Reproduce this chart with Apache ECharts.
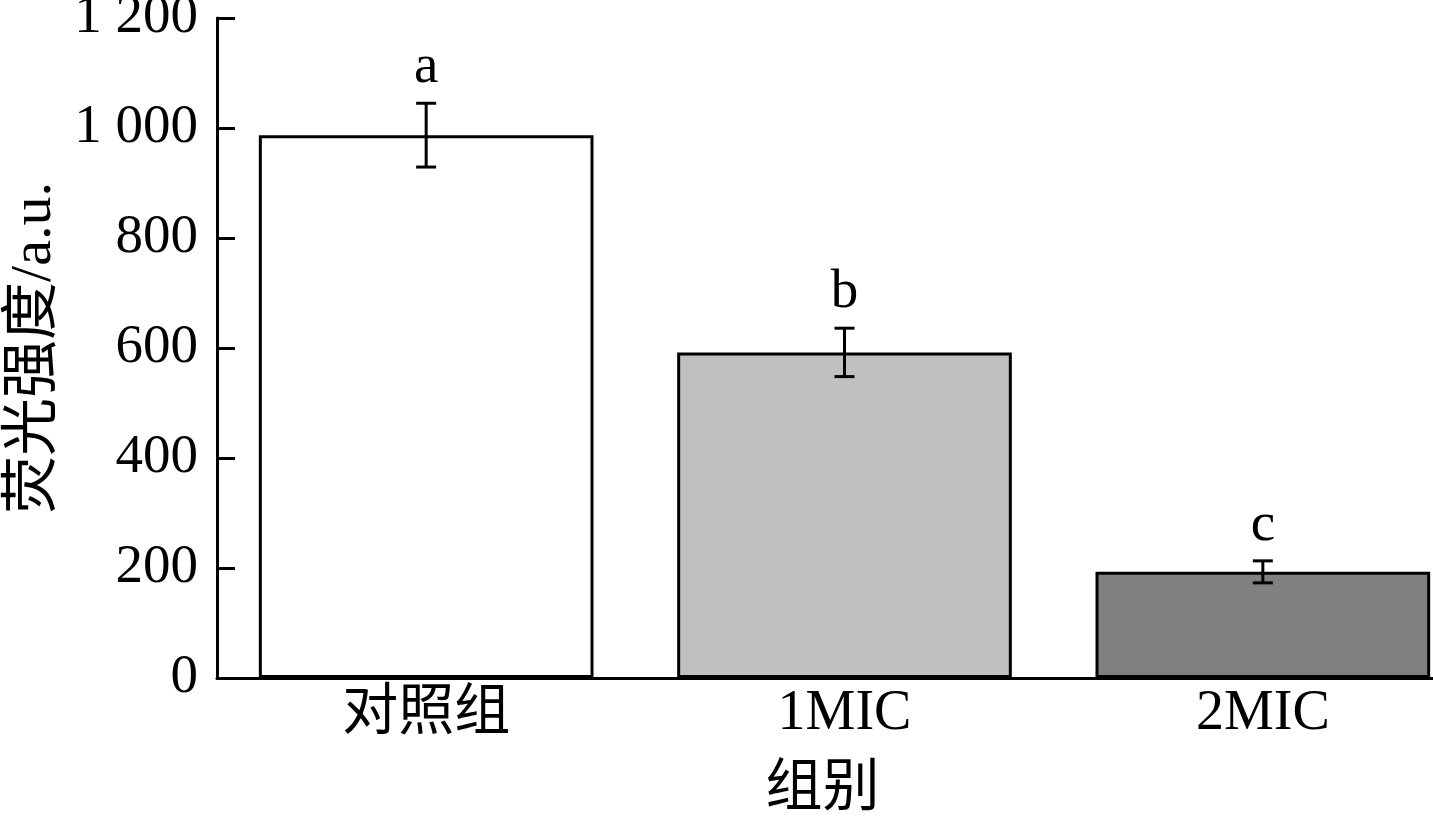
<!DOCTYPE html>
<html>
<head>
<meta charset="utf-8">
<script src="https://cdn.jsdelivr.net/npm/echarts@6/dist/echarts.min.js"></script>
<style>
html,body{margin:0;padding:0;background:#fff;}
#chart{width:1433px;height:820px;}
</style>
</head>
<body>
<div id="chart"></div>
<script>
var categories = ['对照组', '1MIC', '2MIC'];
var values = [987, 592, 193];
var errors = [58, 44, 20];
var letters = ['a', 'b', 'c'];
var barColors = ['#ffffff', '#c0c0c0', '#808080'];
var yTicks = [0, 200, 400, 600, 800, 1000, 1200];

var FONT = "'Liberation Serif', 'Times New Roman', 'Noto Sans CJK SC', serif";
var FS = 55;
var chart = echarts.init(document.getElementById('chart'));

function fmt(v) {
  var s = String(v);
  if (s.length > 3) s = s.slice(0, s.length - 3) + ' ' + s.slice(s.length - 3);
  return s;
}

var option = {
  animation: false,
  backgroundColor: '#fff',
  grid: { left: 217, top: 18, bottom: 142, right: -39, containLabel: false, outerBoundsMode: 'none' },
  xAxis: {
    type: 'category',
    data: categories,
    name: '组别',
    nameLocation: 'middle',
    nameGap: 84,
    nameTextStyle: { fontFamily: FONT, fontSize: 57, color: '#000', padding: [0, 44, 0, 0] },
    axisLine: { lineStyle: { color: '#000', width: 3 } },
    axisTick: { show: false },
    axisLabel: { fontFamily: FONT, fontSize: 56, color: '#000', margin: 8 },
    splitLine: { show: false }
  },
  yAxis: {
    type: 'value',
    min: yTicks[0],
    max: yTicks[yTicks.length - 1],
    interval: 200,
    name: '荧光强度/a.u.',
    nameLocation: 'middle',
    nameGap: 146,
    nameRotate: 90,
    nameTextStyle: { fontFamily: FONT, fontSize: 58, color: '#000' },
    axisLine: { show: true, lineStyle: { color: '#000', width: 3 } },
    axisTick: { show: true, inside: true, length: 18, lineStyle: { color: '#000', width: 3 } },
    axisLabel: { fontFamily: FONT, fontSize: FS, color: '#000', margin: 19, formatter: fmt },
    splitLine: { show: false }
  },
  series: [
    {
      type: 'bar',
      barWidth: '80%',
      data: values.map(function (v, i) {
        return { value: v, itemStyle: { color: barColors[i], borderColor: '#000', borderWidth: 3 } };
      }),
      z: 2
    },
    {
      type: 'custom',
      z: 5,
      data: values.map(function (v, i) { return [i, v, errors[i]]; }),
      renderItem: function (params, api) {
        var i = api.value(0), v = api.value(1), e = api.value(2);
        var top = api.coord([i, v + e]);
        var bot = api.coord([i, v - e]);
        var half = 10;
        var ls = { stroke: '#000', lineWidth: 3 };
        return {
          type: 'group',
          children: [
            { type: 'line', shape: { x1: top[0], y1: top[1], x2: bot[0], y2: bot[1] }, style: ls },
            { type: 'line', shape: { x1: top[0] - half, y1: top[1], x2: top[0] + half, y2: top[1] }, style: ls },
            { type: 'line', shape: { x1: bot[0] - half, y1: bot[1], x2: bot[0] + half, y2: bot[1] }, style: ls },
            { type: 'text', x: top[0], y: top[1] - 8,
              style: { text: letters[params.dataIndex], fill: '#000', font: FS + 'px ' + FONT, align: 'center', verticalAlign: 'bottom' } }
          ]
        };
      }
    }
  ]
};
chart.setOption(option);
</script>
</body>
</html>
